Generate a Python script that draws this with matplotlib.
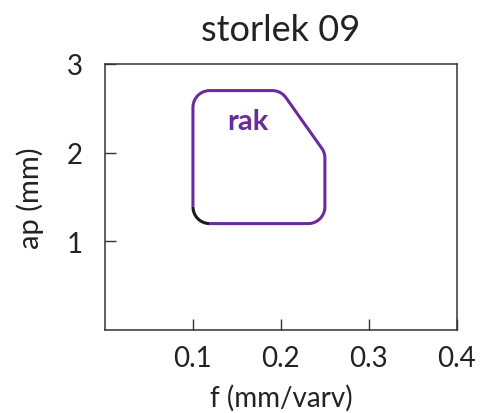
import numpy as np
import matplotlib
matplotlib.use("Agg")
import matplotlib.pyplot as plt

plt.rcParams['font.family'] = ['Lato', 'DejaVu Sans']

# Data
title = "storlek 09"
xlabel = "f (mm/varv)"
ylabel = "ap (mm)"
region_label = "rak"
f_vertices = [0.10, 0.10, 0.20, 0.25, 0.25]   # mm/varv
ap_vertices = [1.20, 2.70, 2.70, 2.00, 1.20]  # mm
x_ticks = [0.1, 0.2, 0.3, 0.4]
y_ticks = [1, 2, 3]
label_pos = (0.1625, 2.36)

purple = "#6a2c9a"
xscale = 10.0  # normalise x so corners are round on screen
radius = 0.19

def rounded_polygon(xs, ys, r, n=20):
    P = np.column_stack([np.array(xs) * xscale, np.array(ys)])
    m = len(P)
    arcs = []
    for i in range(m):
        p0, p1, p2 = P[i - 1], P[i], P[(i + 1) % m]
        d1 = (p0 - p1) / np.linalg.norm(p0 - p1)
        d2 = (p2 - p1) / np.linalg.norm(p2 - p1)
        ang = np.arccos(np.clip(np.dot(d1, d2), -1, 1))
        t = r / np.tan(ang / 2)
        a = p1 + d1 * t
        b = p1 + d2 * t
        bis = (d1 + d2) / np.linalg.norm(d1 + d2)
        c = p1 + bis * (r / np.sin(ang / 2))
        a0 = np.arctan2(a[1] - c[1], a[0] - c[0])
        a1 = np.arctan2(b[1] - c[1], b[0] - c[0])
        da = (a1 - a0 + np.pi) % (2 * np.pi) - np.pi
        th = a0 + np.linspace(0, da, n)
        arc = np.column_stack([c[0] + r * np.cos(th), c[1] + r * np.sin(th)])
        arc[:, 0] /= xscale
        arcs.append(arc)
    return arcs

fig = plt.figure(figsize=(4.86, 4.14), dpi=100)
ax = fig.add_axes([0.216, 0.2005, 0.724, 0.6425])

arcs = rounded_polygon(f_vertices, ap_vertices, radius)
m = len(arcs)
pts = [arcs[0][-1:]]
for i in range(1, m):
    pts.append(arcs[i])
pts.append(arcs[0][:1])
path = np.vstack(pts)
ax.plot(path[:, 0], path[:, 1], color=purple, lw=2.2, solid_capstyle='butt', zorder=3)
ax.plot(arcs[0][:, 0], arcs[0][:, 1], color="#1a1a1a", lw=2.2, solid_capstyle='butt', zorder=4)

ax.text(label_pos[0], label_pos[1], region_label, color=purple, fontsize=21,
        fontweight='bold', ha='center', va='center')

ax.set_xlim(0, 0.4)
ax.set_ylim(0, 3)
ax.set_xticks(x_ticks)
ax.set_xticklabels([f"{v:.1f}" for v in x_ticks])
ax.set_yticks(y_ticks)
ax.set_yticklabels([str(v) for v in y_ticks])
ax.tick_params(direction='in', length=8, width=1, color="#333333",
               labelsize=20, labelcolor="#222222")
ax.tick_params(axis='x', pad=11)
ax.tick_params(axis='y', pad=16)
for s in ax.spines.values():
    s.set_color("#333333")
    s.set_linewidth(1.1)

ax.set_title(title, fontsize=26, color="#222222", pad=17)
ax.set_xlabel(xlabel, fontsize=20, color="#222222", labelpad=9)
ax.set_ylabel(ylabel, fontsize=21, color="#222222", labelpad=16)

fig.savefig("out.png", dpi=100)
